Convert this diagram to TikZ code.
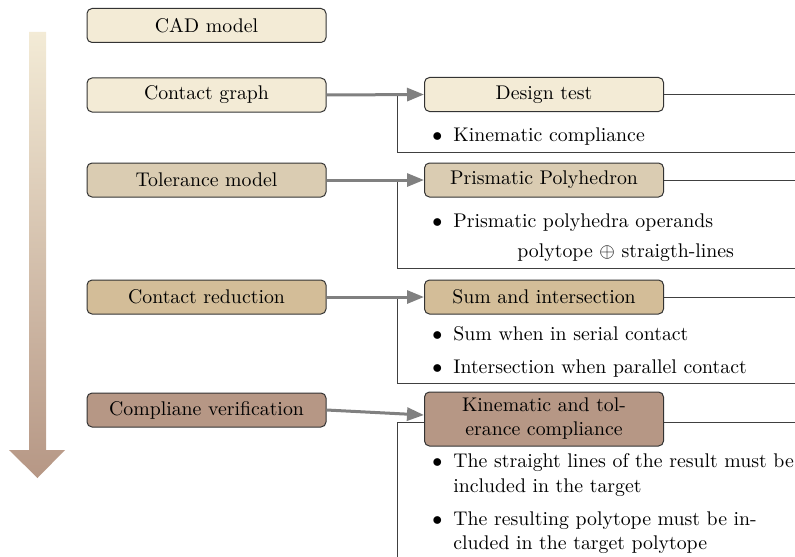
\documentclass[tikz,border=0pt]{standalone}
\usetikzlibrary{arrows.meta,calc}
\pgfdeclarelayer{background}
\pgfsetlayers{background,main}

\definecolor{stageA}{RGB}{243,235,214}
\definecolor{stageB}{RGB}{218,204,178}
\definecolor{stageC}{RGB}{211,189,152}
\definecolor{stageD}{RGB}{182,151,133}

\begin{document}
\begin{tikzpicture}[x=0.5pt,y=-0.5pt,
  every node/.style={font=\fontsize{9.9}{12}\selectfont},
  box/.style={draw=black!80, line width=0.5pt, rounded corners=2.5pt,
    minimum width=119.5pt, minimum height=17pt, inner sep=2pt, align=center},
  flow/.style={draw=gray, line width=1.5pt, -{Triangle[length=8.5pt,width=6.5pt]}},
  frame/.style={draw=black!75, line width=0.5pt},
  txt/.style={anchor=base west, inner sep=0pt},
  dot/.style={anchor=base west, inner sep=0pt}]
\clip (0,0) rectangle (795,556);

% process stages, left column
\node[box, fill=stageA] (cad) at (206.5,25.5) {CAD model};
\node[box, fill=stageA] (cg)  at (206.5,95)   {Contact graph};
\node[box, fill=stageB] (tm)  at (206.5,180)  {Tolerance model};
\node[box, fill=stageC] (cr)  at (206.5,297)  {Contact reduction};
\node[box, fill=stageD] (cv)  at (206.5,410)  {Compliane verification};

% details, right column
\node[box, fill=stageA] (dt) at (544,94.5) {Design test};
\node[box, fill=stageB] (pp) at (544,180)  {Prismatic Polyhedron};
\node[box, fill=stageC] (si) at (544,297)  {Sum and intersection};
\node[box, fill=stageD, minimum height=27pt] (kc) at (544,419)
  {Kinematic and tol-\\erance compliance};

% bullet lists
\node[dot] (b1) at (432,141) {$\bullet$};
\node[txt] (t1) at (453,141) {Kinematic compliance};
\node[dot] (b2) at (432,227) {$\bullet$};
\node[txt] (t2) at (453,227) {Prismatic polyhedra operands};
\node[txt] (t2b) at (517,257) {polytope $\oplus$ straigth-lines};
\node[dot] (b3) at (432,340) {$\bullet$};
\node[txt] (t3) at (453,340) {Sum when in serial contact};
\node[dot] (b4) at (432,373) {$\bullet$};
\node[txt] (t4) at (453,373) {Intersection when parallel contact};
\node[dot] (b5) at (432,467) {$\bullet$};
\node[txt] (t5) at (453,467) {The straight lines of the result must be};
\node[txt] (t5b) at (453,492) {included in the target};
\node[dot] (b6) at (432,525) {$\bullet$};
\node[txt] (t6) at (453,525) {The resulting polytope must be in-};
\node[txt] (t6b) at (453,549) {cluded in the target polytope};

% frame corners
\coordinate (f1a) at (397,94.5); \coordinate (f1b) at (397,152); \coordinate (f1c) at (800,152);
\coordinate (f2a) at (397,180);  \coordinate (f2b) at (397,268); \coordinate (f2c) at (800,268);
\coordinate (f3a) at (397,297);  \coordinate (f3b) at (397,383); \coordinate (f3c) at (800,383);
\coordinate (f4a) at (397,422);  \coordinate (f4b) at (397,600);
\coordinate (r1) at (800,94.5);  \coordinate (r2) at (800,180);
\coordinate (r3) at (800,297);   \coordinate (r4) at (800,422);

\begin{pgfonlayer}{background}
  % time arrow
  \shade[top color=stageA, bottom color=stageD]
    (29,32) -- (46,32) -- (46,450) -- (65,450) -- (37.5,478) -- (9,450) -- (29,450) -- cycle;
  % frames around each detail block
  \draw[frame] (dt.east) -- (r1);
  \draw[frame] (f1a) -- (f1b) -- (f1c);
  \draw[frame] (pp.east) -- (r2);
  \draw[frame] (f2a) -- (f2b) -- (f2c);
  \draw[frame] (si.east) -- (r3);
  \draw[frame] (f3a) -- (f3b) -- (f3c);
  \draw[frame] (kc.east |- f4a) -- (r4);
  \draw[frame] (f4b) -- (f4a) -- (kc.west |- f4a);
\end{pgfonlayer}

% links from stages to details
\draw[flow] (cg.east) -- (dt.west);
\draw[flow] (tm.east) -- (pp.west);
\draw[flow] (cr.east) -- (si.west);
\draw[flow] (cv.east) -- ($(kc.west)+(0,-4)$);
\end{tikzpicture}
\end{document}
